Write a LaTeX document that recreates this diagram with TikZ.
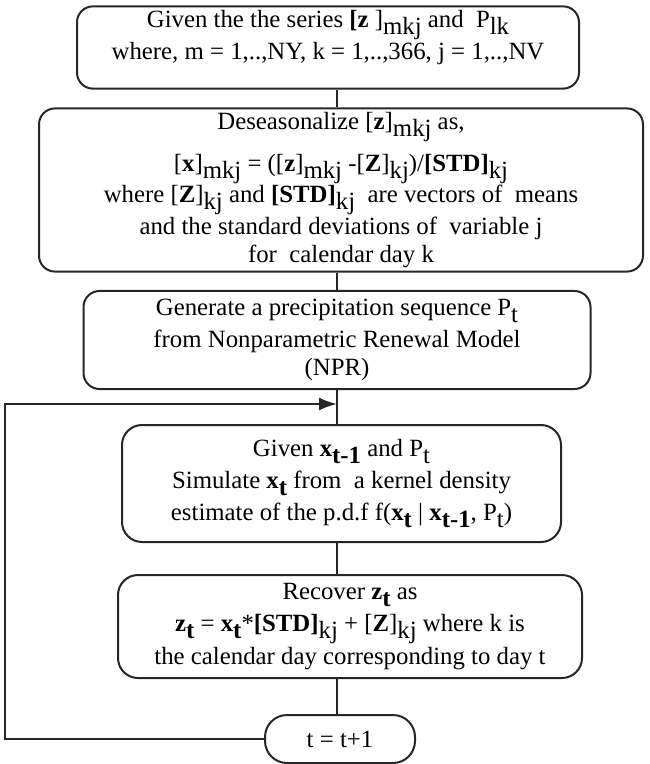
\documentclass[tikz,border=0pt]{standalone}
\usepackage{fontspec}
\setmainfont{Liberation Serif}
\usetikzlibrary{arrows.meta, positioning, calc}
\newcommand{\lowsub}[1]{\raisebox{-3.5pt}{#1}}

\begin{document}
\begin{tikzpicture}[
    x=0.5pt, y=-0.5pt,
    >={Latex[length=9pt,width=6.5pt]},
    box/.style={draw=black!85, line width=1pt, rounded corners=8pt, align=center, font=\fontsize{12.4}{13.8}\selectfont, inner sep=2pt},
    pill/.style={box, rounded corners=11pt},
    link/.style={draw=black!85, line width=1pt}
  ]
  \useasboundingbox (0,0) rectangle (649,764);

  % --- Steps of the simulation ---
  \node[box, minimum width=251pt, minimum height=40.5pt] (given) at (328,47.5)
    {Given the the series \textbf{[z} ]\lowsub{mkj} and~ P\lowsub{lk}\\
     where, m = 1,..,NY, k = 1,..,366, j = 1,..,NV\\[-1pt]\mbox{}};
  \node[box, minimum width=302pt, minimum height=72.5pt] (deseason) at (341,190)
    {Deseasonalize [\textbf{z}]\lowsub{mkj} as,\\[5pt]{}%
     [\textbf{x}]\lowsub{mkj} = ([\textbf{z}]\lowsub{mkj} -[\textbf{Z}]\lowsub{kj})/\textbf{[STD]}\lowsub{kj}\\
     where [\textbf{Z}]\lowsub{kj} and \textbf{[STD]}\lowsub{kj}~ are vectors of~ means\\
     and the standard deviations of~ variable j\\
     for~ calendar day k};
  \node[box, minimum width=253.5pt, minimum height=49pt] (npr) at (337,340)
    {Generate a precipitation sequence P\lowsub{t}\\[2pt]
     from Nonparametric Renewal Model\\
     (NPR)};
  \node[box, rounded corners=10pt, minimum width=219.5pt, minimum height=58.5pt] (simulate) at (341.5,483.5)
    {Given \textbf{x\lowsub{t-1}} and P\lowsub{t}\\[2pt]
     Simulate \textbf{x\lowsub{t}} from~ a kernel density\\[2pt]
     estimate of the p.d.f f(\textbf{x\lowsub{t}} | \textbf{x\lowsub{t-1}}, P\lowsub{t})};
  \node[box, rounded corners=10pt, minimum width=232pt, minimum height=51.5pt] (recover) at (350,626.5)
    {Recover \textbf{z\lowsub{t}} as\\[2pt]
     \textbf{z\lowsub{t}} = \textbf{x\lowsub{t}}*\textbf{[STD]}\lowsub{kj} + [\textbf{Z}]\lowsub{kj} where k is\\[1pt]
     the calendar day corresponding to day t};
  \node[pill, minimum width=75pt, minimum height=24pt] (tinc) at (340,739) {t = t+1};

  % --- Connectors ---
  \coordinate (spine) at (337,0);
  \coordinate (loopcorner) at (5,404);
  \draw[link] (given.south -| spine) -- (deseason.north -| spine);
  \draw[link] (deseason.south -| spine) -- (npr.north -| spine);
  \draw[link] (npr.south -| spine) -- (simulate.north -| spine);
  \draw[link] (simulate.south -| spine) -- (recover.north -| spine);
  \draw[link] (recover.south -| spine) -- (tinc.north -| spine);

  % --- Loop back to the next day ---
  \draw[link, ->] (tinc.west) -| (loopcorner) -- (loopcorner -| spine);
\end{tikzpicture}
\end{document}
